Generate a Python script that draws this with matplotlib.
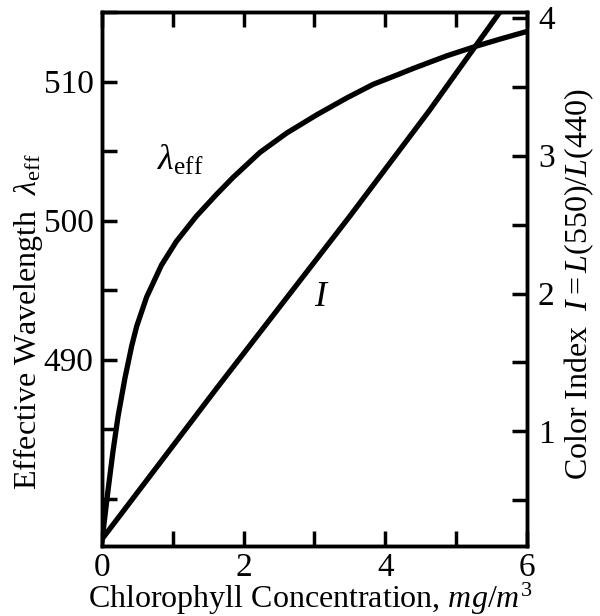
import matplotlib
matplotlib.use("Agg")
import matplotlib.pyplot as plt

plt.rcParams['font.family'] = ['Liberation Serif', 'DejaVu Serif']
plt.rcParams['mathtext.fontset'] = 'custom'
plt.rcParams['mathtext.rm'] = 'Liberation Serif'
plt.rcParams['mathtext.it'] = 'Liberation Serif:italic'

# lambda_eff curve
chl_lam = [0.0, 0.085, 0.155, 0.226, 0.325, 0.42, 0.49, 0.63, 0.84, 1.05, 1.33,
           1.62, 1.85, 2.23, 2.61, 3.03, 3.45, 3.83, 4.18, 4.40, 4.87, 5.29,
           5.62, 6.0]
lam_eff = [477.0, 480.6, 483.4, 485.9, 488.7, 491.0, 492.4, 494.5, 496.8, 498.5, 500.3,
           501.9, 503.1, 504.9, 506.3, 507.6, 508.8, 509.8, 510.5, 510.95, 511.85, 512.55,
           513.05, 513.6]

# colour index I line
chl_I = [0.0, 1.6, 3.5, 4.63, 5.62]
color_index = [0.22, 1.30, 2.56, 3.33, 4.04]

fig = plt.figure(figsize=(6, 6.16), dpi=100)
ax = fig.add_axes([0.17, 0.1136, 0.708, 0.8669])
ax2 = ax.twinx()

ax.plot(chl_lam, lam_eff, color='black', lw=3.8, solid_joinstyle='round')
ax2.plot(chl_I, color_index, color='black', lw=3.8, solid_joinstyle='round')

ax.set_xlim(0, 6)
ax.set_ylim(476.6, 515.0)
ax2.set_ylim(0.17, 4.04)

fs = 24
ax.set_xticks([0, 1, 2, 3, 4, 5, 6])
ax.set_xticklabels(['0', '', '2', '', '4', '', '6'], fontsize=fs)
ax.set_yticks([480, 485, 490, 495, 500, 505, 510, 515])
ax.set_yticklabels(['', '', '490', '', '500', '', '510', ''], fontsize=fs)
ax2.set_yticks([0.5, 1, 1.5, 2, 2.5, 3, 3.5, 4])
ax2.set_yticklabels(['', '1', '', '2', '', '3', '', '4'], fontsize=fs)

ax.tick_params(axis='both', direction='in', length=11, width=2.5, pad=6, top=True)
ax.tick_params(axis='x', pad=5)
ax2.tick_params(axis='y', direction='in', length=11, width=2.5, pad=8)
for a in (ax, ax2):
    for s in a.spines.values():
        s.set_linewidth(2.5)

ax.set_xlabel(r"Chlorophyll Concentration, $\mathit{mg/m}^{3}$", fontsize=23)
ax.xaxis.set_label_coords(0.49, -0.066)
ax.set_ylabel(r"Effective Wavelength  $\lambda_{\rm eff}$", fontsize=23)
ax.yaxis.set_label_coords(-0.135, 0.42)
ax2.set_ylabel(r"Color Index  $\mathit{I= L(550)/L(440)}$", fontsize=23)
ax2.yaxis.set_label_coords(1.085, 0.49)

ax.text(1.1, 504.3, r"$\lambda_{\rm eff}$", fontsize=26, ha='center', va='center')
ax2.text(3.1, 1.97, r"$I$", fontsize=26, ha='center', va='center')

fig.savefig("out.png", dpi=100)
